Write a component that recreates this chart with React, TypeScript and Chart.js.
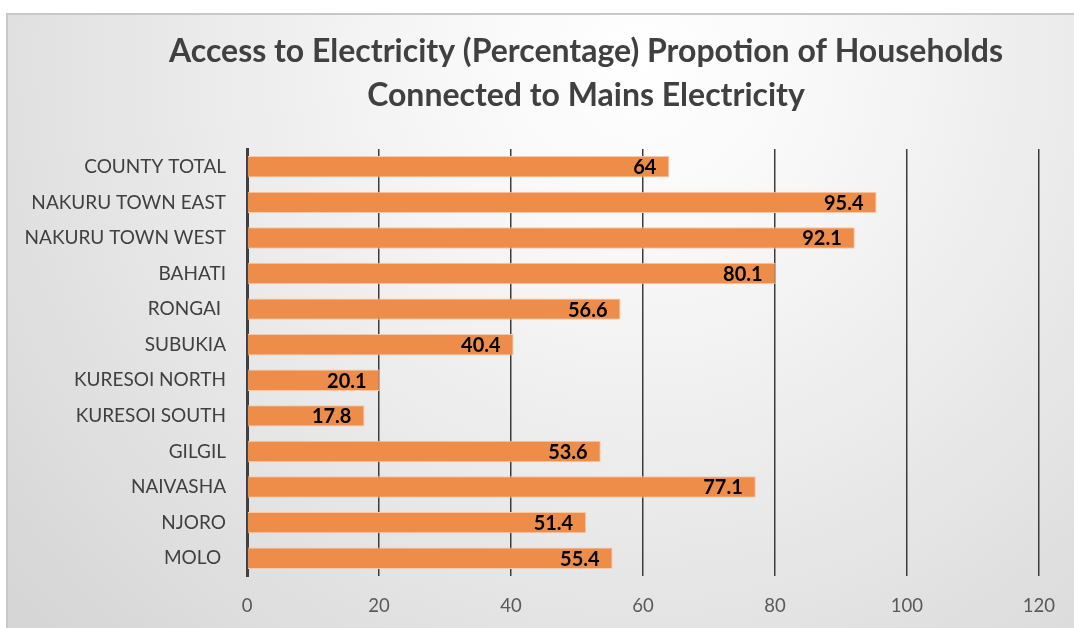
import { useEffect, useRef } from 'react';
import { Chart, registerables } from 'chart.js';

Chart.register(...registerables);

const categories = [
  'COUNTY TOTAL',
  'NAKURU TOWN EAST',
  'NAKURU TOWN WEST',
  'BAHATI',
  'RONGAI ',
  'SUBUKIA',
  'KURESOI NORTH',
  'KURESOI SOUTH',
  'GILGIL',
  'NAIVASHA',
  'NJORO',
  'MOLO ',
];
const values = [64, 95.4, 92.1, 80.1, 56.6, 40.4, 20.1, 17.8, 53.6, 77.1, 51.4, 55.4];
const titleLines = [
  'Access to Electricity (Percentage) Propotion of Households',
  'Connected to Mains Electricity',
];
const xMin = 0;
const xMax = 120;
const xStep = 20;

const FONT = 'Lato, "Open Sans", sans-serif';

const backgroundPlugin = {
  id: 'bgBox',
  beforeDraw(chart: any) {
    const { ctx, width, height } = chart;
    ctx.save();
    const g = ctx.createRadialGradient(640, 60, 0, 640, 60, 820);
    g.addColorStop(0, '#ffffff');
    g.addColorStop(0.25, '#f7f7f7');
    g.addColorStop(1, '#d6d6d6');
    ctx.fillStyle = g;
    ctx.fillRect(7, 14, width - 7, height - 14);
    ctx.strokeStyle = '#c8c8c8';
    ctx.lineWidth = 2;
    ctx.beginPath();
    ctx.moveTo(7, height);
    ctx.lineTo(7, 14);
    ctx.lineTo(width, 14);
    ctx.stroke();
    ctx.restore();
  },
};

const titlePlugin = {
  id: 'customTitle',
  afterDraw(chart: any) {
    const { ctx } = chart;
    ctx.save();
    ctx.fillStyle = '#404040';
    ctx.font = `bold 32px ${FONT}`;
    ctx.textAlign = 'center';
    ctx.textBaseline = 'middle';
    ctx.fillText(titleLines[0], 586, 52);
    ctx.fillText(titleLines[1], 586, 96);
    ctx.restore();
  },
};

const labelPlugin = {
  id: 'barLabels',
  afterDatasetsDraw(chart: any) {
    const { ctx } = chart;
    const meta = chart.getDatasetMeta(0);
    ctx.save();
    ctx.fillStyle = '#000000';
    ctx.font = `bold 20px ${FONT}`;
    ctx.textAlign = 'right';
    ctx.textBaseline = 'middle';
    meta.data.forEach((bar: any, i: number) => {
      ctx.fillText(String(values[i]), bar.x - 13, bar.y + 1);
    });
    ctx.restore();
  },
};

export default function App() {
  const ref = useRef<HTMLCanvasElement | null>(null);

  useEffect(() => {
    if (!ref.current) return;
    const chart = new Chart(ref.current, {
      type: 'bar',
      data: {
        labels: categories,
        datasets: [
          {
            data: values,
            backgroundColor: '#ee8c4a',
            borderColor: '#f8c9a6',
            borderWidth: 1,
            barPercentage: 0.6,
            categoryPercentage: 1,
          },
        ],
      },
      options: {
        indexAxis: 'y',
        animation: false,
        responsive: false,
        maintainAspectRatio: false,
        layout: { padding: { top: 149, right: 34, left: 0, bottom: 0 } },
        plugins: {
          legend: { display: false },
          title: { display: false },
          tooltip: { enabled: false },
        },
        scales: {
          x: {
            min: xMin,
            max: xMax,
            ticks: {
              stepSize: xStep,
              color: '#595959',
              font: { family: FONT, size: 18.5 },
              padding: 19,
            },
            grid: {
              color: '#3c3c3c',
              lineWidth: 1.5,
              drawTicks: false,
            },
            border: { display: false },
            afterFit(scale: any) {
              scale.height = 52;
            },
          },
          y: {
            ticks: {
              color: '#404040',
              font: { family: FONT, size: 19 },
              padding: 21,
            },
            grid: { display: false, drawTicks: false },
            border: { display: true, color: '#404040', width: 3 },
            afterFit(scale: any) {
              scale.width = 247;
            },
          },
        },
      },
      plugins: [backgroundPlugin, titlePlugin, labelPlugin],
    });
    return () => chart.destroy();
  }, []);

  return (
    <div style={{ position: 'fixed', left: 0, top: 0, width: 1074, height: 628 }}>
      <canvas ref={ref} width={1074} height={628} style={{ display: 'block', width: 1074, height: 628 }} />
    </div>
  );
}
